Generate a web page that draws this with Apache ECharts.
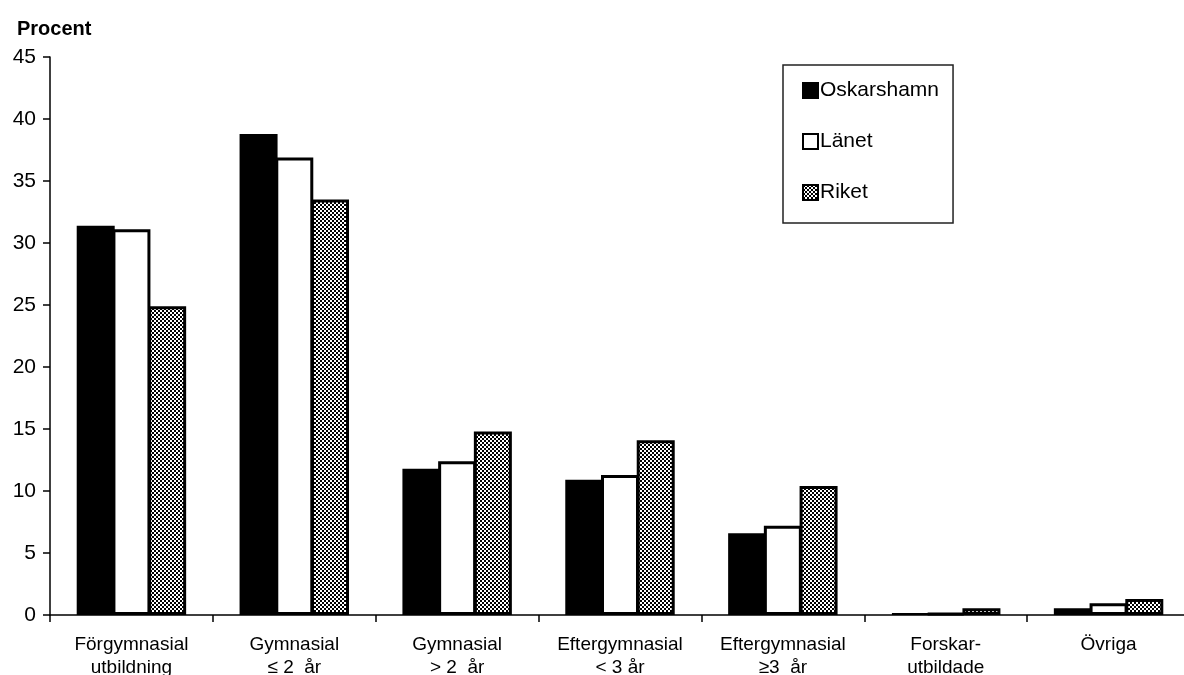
<!DOCTYPE html>
<html>
<head>
<meta charset="utf-8">
<script src="https://cdn.jsdelivr.net/npm/echarts@6/dist/echarts.min.js"></script>
<style>
  html, body { margin: 0; padding: 0; background: #fff; }
  #chart { width: 1184px; height: 675px; }
</style>
</head>
<body>
<div id="chart"></div>
<script>
// Utbildningsnivå, andel av befolkningen (procent)
const categories = [
  'Förgymnasial\nutbildning',
  'Gymnasial\n≤ 2  år',
  'Gymnasial\n> 2  år',
  'Eftergymnasial\n< 3 år',
  'Eftergymnasial\n≥3  år',
  'Forskar-\nutbildade',
  'Övriga'
];
const oskarshamn = [31.4, 38.8, 11.8, 10.9, 6.6, 0.15, 0.55];
const lanet      = [31.1, 36.9, 12.4, 11.3, 7.2, 0.15, 0.95];
const riket      = [24.9, 33.5, 14.8, 14.1, 10.4, 0.55, 1.3];
const yTicks = { min: 0, max: 45, step: 5 };

// Fine black/white checker fill for "Riket"
function checker() {
  const c = document.createElement('canvas');
  c.width = 4; c.height = 4;
  const g = c.getContext('2d');
  g.fillStyle = '#fff';
  g.fillRect(0, 0, 4, 4);
  g.fillStyle = '#000';
  g.fillRect(0, 0, 2, 2);
  g.fillRect(2, 2, 2, 2);
  return c;
}

const font = '"Liberation Sans", Arial, Helvetica, sans-serif';
const chart = echarts.init(document.getElementById('chart'), null, { renderer: 'canvas' });

const barBase = { type: 'bar', barWidth: 38, barGap: '-6%' };

chart.setOption({
  animation: false,
  backgroundColor: '#fff',
  title: {
    text: 'Procent',
    left: 12,
    top: 14,
    textStyle: { fontFamily: font, fontSize: 20, fontWeight: 'bold', color: '#000' }
  },
  legend: {
    orient: 'vertical',
    left: 783,
    top: 65,
    padding: [15, 14, 20, 19],
    itemGap: 30,
    itemWidth: 15,
    itemHeight: 15,
    icon: 'rect',
    borderColor: '#222',
    borderWidth: 1.5,
    textStyle: { fontFamily: font, fontSize: 21, color: '#000', padding: [0, 0, 0, -3] },
    data: ['Oskarshamn', 'Länet', 'Riket']
  },
  grid: {
    left: 50, right: -6, top: 57, bottom: 60,
    containLabel: false,
    outerBoundsMode: 'none'
  },
  xAxis: {
    type: 'category',
    data: categories,
    axisLine: { lineStyle: { color: '#000', width: 1.5 } },
    axisTick: { show: true, length: 7, lineStyle: { color: '#000', width: 1.5 } },
    axisLabel: {
      interval: 0,
      margin: 18,
      fontFamily: font,
      fontSize: 19,
      lineHeight: 23,
      color: '#000'
    },
    splitLine: { show: false }
  },
  yAxis: {
    type: 'value',
    min: yTicks.min,
    max: yTicks.max,
    interval: yTicks.step,
    axisLine: { show: true, lineStyle: { color: '#000', width: 1.5 } },
    axisTick: { show: true, length: 7, lineStyle: { color: '#000', width: 1.5 } },
    axisLabel: { margin: 14, fontFamily: font, fontSize: 21, color: '#000' },
    splitLine: { show: false }
  },
  series: [
    Object.assign({}, barBase, {
      name: 'Oskarshamn',
      data: oskarshamn,
      itemStyle: { color: '#000', borderColor: '#000', borderWidth: 2 }
    }),
    Object.assign({}, barBase, {
      name: 'Länet',
      data: lanet,
      itemStyle: { color: '#fff', borderColor: '#000', borderWidth: 3 }
    }),
    Object.assign({}, barBase, {
      name: 'Riket',
      data: riket,
      itemStyle: {
        color: { image: checker(), repeat: 'repeat' },
        borderColor: '#000',
        borderWidth: 3
      }
    })
  ]
});
</script>
</body>
</html>
